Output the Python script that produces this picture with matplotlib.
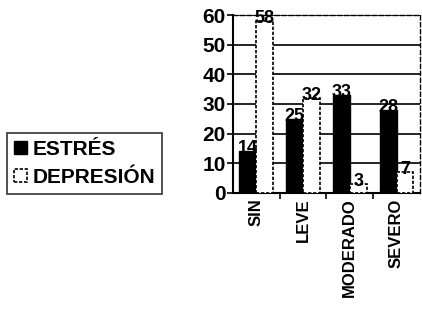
import numpy as np
import matplotlib.pyplot as plt
from matplotlib.ticker import FixedLocator

plt.rcParams['font.family'] = ['Liberation Sans', 'DejaVu Sans']
plt.rcParams['font.weight'] = 'bold'

categorias = ['SIN', 'LEVE', 'MODERADO', 'SEVERO']
estres = [14, 25, 33, 28]
depresion = [58, 32, 3, 7]
series = ['ESTRÉS', 'DEPRESIÓN']

fig = plt.figure(figsize=(4.22, 3.28), dpi=100)
ax = fig.add_axes([0.552, 0.412, 0.443, 0.542])

x = np.arange(len(categorias))
w = 0.36
b1 = ax.bar(x - w / 2, estres, w, color='black', edgecolor='black', linewidth=1, label=series[0], zorder=3)
b2 = ax.bar(x + w / 2, depresion, w, color='white', edgecolor='black', linewidth=1.2,
            linestyle=(0, (2, 1)), label=series[1], zorder=3)

for rect, v in zip(list(b1) + list(b2), estres + depresion):
    ax.text(rect.get_x() + rect.get_width() / 2, v - 2, str(v), ha='center', va='bottom',
            fontsize=13, fontweight='bold', color='black', zorder=4)

ax.set_ylim(0, 60)
ax.set_xlim(-0.5, len(categorias) - 0.5)
ax.set_yticks(range(0, 61, 10))
ax.yaxis.grid(True, color='black', linewidth=1.2, zorder=0)
ax.set_xticks(x)
ax.set_xticklabels(categorias, rotation=90, fontsize=12, fontweight='bold')
ax.xaxis.set_minor_locator(FixedLocator(x[:-1] + 0.5))
ax.tick_params(axis='x', which='major', length=0, pad=4)
ax.tick_params(axis='x', which='minor', length=4, width=1.2, direction='out')
ax.tick_params(axis='y', length=4, width=1.2, labelsize=15, pad=1)
for lab in ax.get_yticklabels():
    lab.set_fontweight('bold')

ax.spines['left'].set_linewidth(1.5)
ax.spines['bottom'].set_linewidth(1.5)
for s in ['top', 'right']:
    ax.spines[s].set_linestyle((0, (3, 2)))
    ax.spines[s].set_linewidth(1)

leg = fig.legend(handles=[b1, b2], labels=series, loc='upper left',
                 bbox_to_anchor=(0.017, 0.595), frameon=True, fancybox=False,
                 edgecolor='black', fontsize=15, handlelength=0.6, handleheight=0.6,
                 handletextpad=0.25, borderpad=0.35, labelspacing=0.42, borderaxespad=0)
leg.get_frame().set_linewidth(1.2)
for t in leg.get_texts():
    t.set_fontweight('bold')

fig.savefig('out.png', dpi=100)
